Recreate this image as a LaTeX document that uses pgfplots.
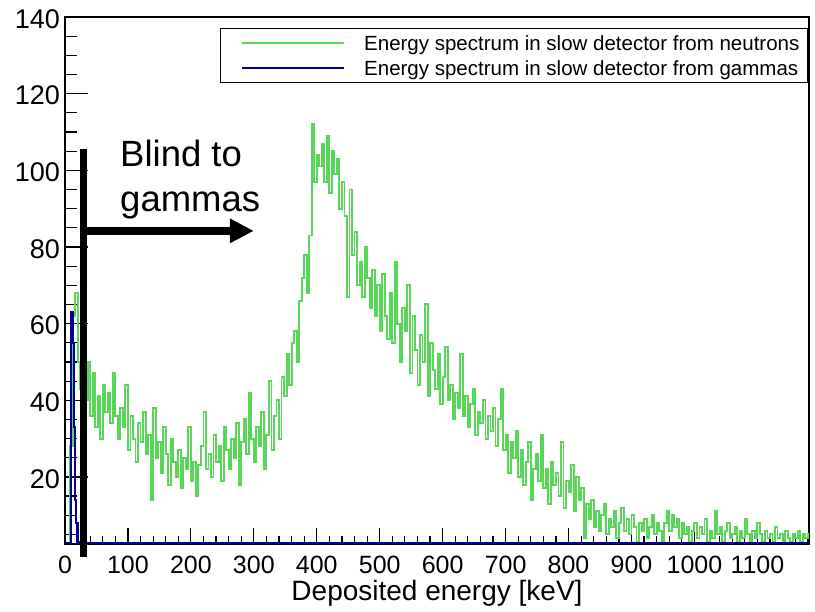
\documentclass[border=0pt]{standalone}
\usepackage{fontspec}
\setmainfont{Liberation Sans}
\usepackage{pgfplots}
\pgfplotsset{compat=1.18}
\usetikzlibrary{arrows.meta}
\definecolor{rgreen}{RGB}{88,214,88}
\definecolor{rblue}{RGB}{0,0,150}
\begin{document}
\begin{tikzpicture}
\path[use as bounding box] (-65pt,-68pt) rectangle (750pt,544pt);
\begin{axis}[
  at={(0pt,0pt)}, anchor=south west,
  scale only axis, width=744pt, height=527pt,
  xmin=0, xmax=1182, ymin=2.5, ymax=140,
  clip mode=individual,
  axis line style={line width=1.2pt, black},
  tick pos=left, tick align=inside,
  xtick={0,100,...,1100}, ytick={20,40,...,140},
  minor xtick={20,40,...,1180}, minor ytick={5,10,...,135},
  major x tick style={line width=1.2pt, black, /pgfplots/major tick length=16pt},
  minor x tick style={line width=1.2pt, black, /pgfplots/minor tick length=8pt},
  major y tick style={line width=1.2pt, black, /pgfplots/major tick length=23pt},
  minor y tick style={line width=1.2pt, black, /pgfplots/minor tick length=12pt},
  /pgf/number format/assume math mode=true,
  /pgf/number format/1000 sep={},
  xticklabel style={font=\fontsize{25}{30}\selectfont, inner sep=0pt, anchor=north, yshift=-12pt},
  yticklabel style={font=\fontsize{27}{32}\selectfont, inner sep=0pt, anchor=east, xshift=-5pt, yshift=-2pt},
  xlabel={Deposited energy [keV]},
  every axis x label/.style={at={(axis description cs:0.5,0)}, anchor=base, yshift=-57pt, inner sep=0pt, font=\fontsize{28}{32}\selectfont},
  legend image code/.code={\path (0pt,0pt); \draw[#1, line width=1.8pt] (13pt,0pt) -- (115pt,0pt);},
  legend style={at={(axis description cs:0.9987,0.9791)}, anchor=north east,
    draw=black, line width=1.2pt, inner xsep=8pt, inner ysep=7pt,
    font=\fontsize{20.5}{24}\selectfont,
    nodes={inner sep=0pt, text height=15pt, text depth=0pt},
    /tikz/column sep=19pt, /tikz/row sep=10pt},
  legend cell align=left,
]
\addplot[const plot mark left, rgreen, line width=1.9pt] coordinates {
(0,0)(4,0)(8,28)(12,62)(16,68)(20,50)(24,43)(28,46)(32,40)(36,50)
(40,36)(44,47)(48,33)(52,41)(56,30)(60,44)(64,37)(68,42)(72,34)(76,47)
(80,36)(84,30)(88,38)(92,33)(96,44)(100,27)(104,36)(108,30)(112,24)(116,34)
(120,29)(124,37)(128,26)(132,31)(136,14)(140,38)(144,25)(148,29)(152,21)(156,33)
(160,26)(164,18)(168,30)(172,24)(176,20)(180,27)(184,17)(188,25)(192,22)(196,33)
(200,19)(204,24)(208,15)(212,23)(216,28)(220,37)(224,22)(228,26)(232,20)(236,31)
(240,24)(244,28)(248,19)(252,33)(256,27)(260,22)(264,30)(268,25)(272,34)(276,18)
(280,29)(284,35)(288,26)(292,42)(296,30)(300,24)(304,33)(308,28)(312,37)(316,22)
(320,31)(324,45)(328,27)(332,36)(336,40)(340,30)(344,46)(348,41)(352,52)(356,44)
(360,55)(364,58)(368,50)(372,66)(376,72)(380,78)(384,68)(388,83)(392,112)(396,97)
(400,104)(404,101)(408,107)(412,97)(416,109)(420,94)(424,105)(428,99)(432,103)(436,90)
(440,97)(444,88)(448,67)(452,95)(456,78)(460,84)(464,70)(468,76)(472,67)(476,80)
(480,72)(484,64)(488,74)(492,62)(496,70)(500,58)(504,73)(508,62)(512,56)(516,68)
(520,55)(524,76)(528,60)(532,50)(536,64)(540,58)(544,70)(548,47)(552,62)(556,53)
(560,44)(564,57)(568,50)(572,65)(576,41)(580,55)(584,48)(588,43)(592,52)(596,39)
(600,46)(604,54)(608,40)(612,44)(616,35)(620,42)(624,38)(628,52)(632,36)(636,41)
(640,33)(644,39)(648,43)(652,31)(656,37)(660,34)(664,40)(668,30)(672,36)(676,32)
(680,38)(684,28)(688,35)(692,43)(696,27)(700,31)(704,21)(708,29)(712,25)(716,32)
(720,20)(724,27)(728,18)(732,24)(736,29)(740,14)(744,22)(748,26)(752,19)(756,31)
(760,17)(764,22)(768,13)(772,24)(776,18)(780,21)(784,15)(788,29)(792,12)(796,19)
(800,16)(804,23)(808,11)(812,20)(816,14)(820,17)(824,4)(828,13)(832,9)(836,14)
(840,7)(844,11)(848,6)(852,10)(856,13)(860,5)(864,9)(868,7)(872,11)(876,4)
(880,8)(884,12)(888,6)(892,9)(896,5)(900,10)(904,7)(908,3)(912,8)(916,6)
(920,9)(924,4)(928,7)(932,10)(936,5)(940,8)(944,6)(948,3)(952,8)(956,11)
(960,6)(964,10)(968,7)(972,9)(976,4)(980,8)(984,5)(988,7)(992,3)(996,6)
(1000,8)(1004,4)(1008,7)(1012,5)(1016,9)(1020,3)(1024,6)(1028,4)(1032,11)(1036,5)
(1040,7)(1044,3)(1048,6)(1052,8)(1056,4)(1060,5)(1064,7)(1068,3)(1072,6)(1076,4)
(1080,9)(1084,5)(1088,3)(1092,6)(1096,4)(1100,8)(1104,5)(1108,3)(1112,6)(1116,4)
(1120,5)(1124,3)(1128,7)(1132,4)(1136,5)(1140,3)(1144,6)(1148,4)(1152,3)(1156,5)
(1160,4)(1164,6)(1168,3)(1172,5)(1176,4)(1180,5)(1184,5)
};
\addlegendentry{Energy spectrum in slow detector from neutrons}
\addplot[const plot mark left, rblue, line width=2.2pt] coordinates {
(0,2.7)(10,63)(12,55)(14,33)(16,14)(18,8)(20,3)(22,2.7)(1184,2.7)
};
\addlegendentry{Energy spectrum in slow detector from gammas}
\draw[line width=7.3pt, black] (axis cs:29.7,-0.8) -- (axis cs:29.7,105.5);
\draw[line width=7.5pt, black, -{Triangle[length=24pt,width=23pt]}] (axis cs:29.7,84.2) -- (axis cs:300,84.2);
\node[anchor=base west, inner sep=0pt, align=left, font=\fontsize{36.5}{45}\selectfont] at (axis cs:87.4,89.2) {Blind to\\gammas};
\end{axis}
\end{tikzpicture}
\end{document}
